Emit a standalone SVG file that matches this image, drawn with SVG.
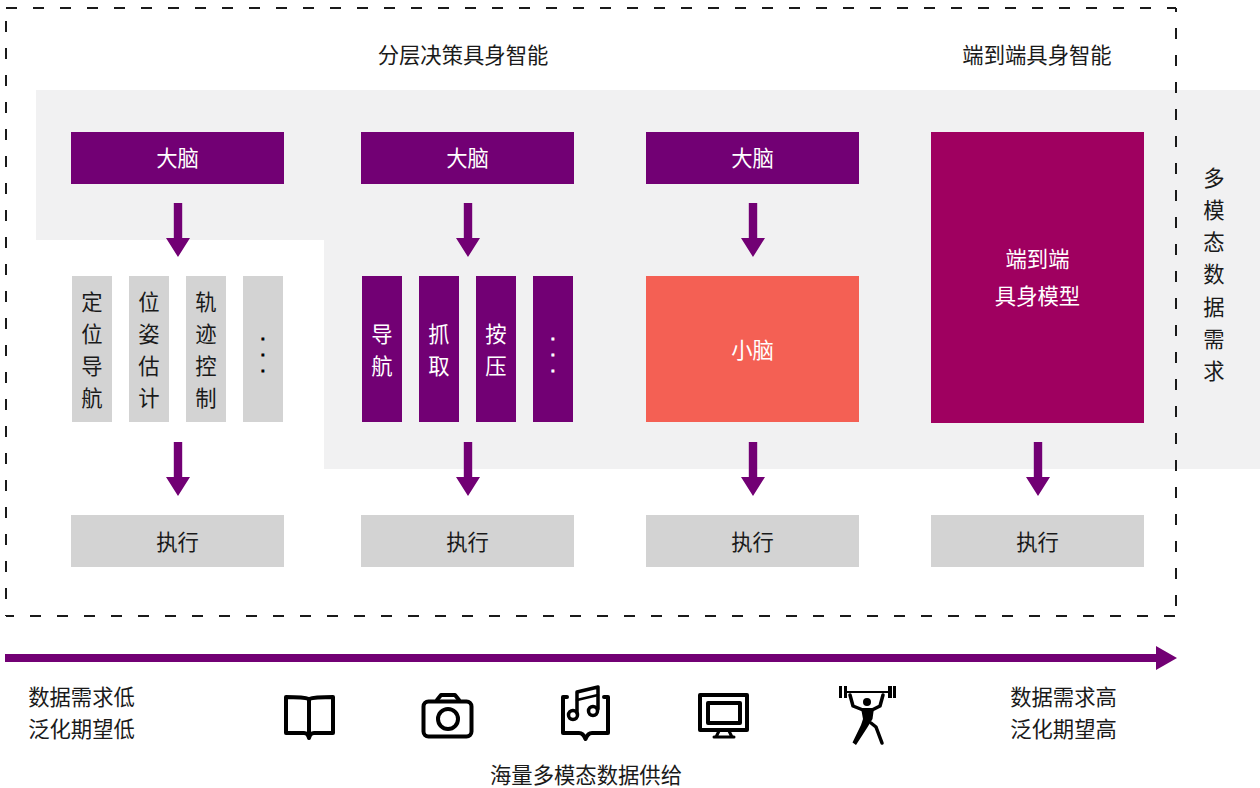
<svg xmlns="http://www.w3.org/2000/svg" width="1260" height="788" viewBox="0 0 1260 788">
<style>
text{font-family:"Noto Sans CJK SC","Noto Sans",sans-serif;font-size:21.33px;text-anchor:middle;fill:#1a1a1a;transform:translateY(.5px)}
text.w{fill:#fff}
text.d{font-family:"Liberation Sans",sans-serif;font-size:13.500px;font-weight:700;fill:#000;stroke:#000;stroke-width:.9}
text.dw{fill:#fff;stroke:#fff}
.p{fill:#720074}.g{fill:#d3d3d3}
.ic{fill:none;stroke:#000;stroke-width:4;stroke-linejoin:round;stroke-linecap:round}
.f{fill:#000;stroke:none}
.dash{fill:none;stroke:#1a1a1a;stroke-width:2;stroke-dasharray:11 16}
</style>
<defs>
<path id="dn" d="M-4.200 0H4.200V35H12L0 54L-12 35H-4.200Z" class="p"/>
</defs>
<path id="panel" fill="#f1f1f2" d="M36 90H1260V469H324V240H36Z"/>
<g id="frame">
<path class="dash" d="M6 8H1176"/>
<path class="dash" d="M1176 8V616" stroke-dashoffset="7"/>
<path class="dash" d="M6 616H1176" stroke-dashoffset="3"/>
<path class="dash" d="M6 8V616" stroke-dashoffset="14"/>
</g>
<text id="t1" x="463" y="62">分层决策具身智能</text>
<text id="t2" x="1037" y="62">端到端具身智能</text>
<g id="side"><text x="1214" y="185">多</text><text x="1214" y="217">模</text><text x="1214" y="249">态</text><text x="1214" y="281">数</text><text x="1214" y="314">据</text><text x="1214" y="346">需</text><text x="1214" y="378">求</text></g>
<g id="brain1"><rect class="p" x="71" y="132" width="213" height="52"/><text class="w" x="177.500" y="165">大脑</text></g>
<g id="brain2"><rect class="p" x="361" y="132" width="213" height="52"/><text class="w" x="467.500" y="165">大脑</text></g>
<g id="brain3"><rect class="p" x="646" y="132" width="213" height="52"/><text class="w" x="752.500" y="165">大脑</text></g>
<g id="e2e"><rect fill="#9f0060" x="931" y="132" width="213" height="291"/><text class="w" x="1037.500" y="266">端到端</text><text class="w" x="1037.500" y="303">具身模型</text></g>
<g id="m1"><rect class="g" x="72" y="276" width="40" height="146"/><text x="92" y="309">定</text><text x="92" y="341">位</text><text x="92" y="373">导</text><text x="92" y="405">航</text></g>
<g id="m2"><rect class="g" x="129" y="276" width="40" height="146"/><text x="149" y="309">位</text><text x="149" y="341">姿</text><text x="149" y="373">估</text><text x="149" y="405">计</text></g>
<g id="m3"><rect class="g" x="186" y="276" width="40" height="146"/><text x="206" y="309">轨</text><text x="206" y="341">迹</text><text x="206" y="373">控</text><text x="206" y="405">制</text></g>
<g id="m4"><rect class="g" x="243" y="276" width="40" height="146"/><text class="d" x="263" y="339">.</text><text class="d" x="263" y="355">.</text><text class="d" x="263" y="371">.</text></g>
<g id="s1"><rect class="p" x="362" y="276" width="40" height="146"/><text class="w" x="382" y="341">导</text><text class="w" x="382" y="373">航</text></g>
<g id="s2"><rect class="p" x="419" y="276" width="40" height="146"/><text class="w" x="439" y="341">抓</text><text class="w" x="439" y="373">取</text></g>
<g id="s3"><rect class="p" x="476" y="276" width="40" height="146"/><text class="w" x="496" y="341">按</text><text class="w" x="496" y="373">压</text></g>
<g id="s4"><rect class="p" x="533" y="276" width="40" height="146"/><text class="d dw" x="553" y="339">.</text><text class="d dw" x="553" y="355">.</text><text class="d dw" x="553" y="371">.</text></g>
<g id="cereb"><rect fill="#f46054" x="646" y="276" width="213" height="146"/><text class="w" x="752.500" y="357">小脑</text></g>
<g id="x1"><rect class="g" x="71" y="515" width="213" height="52"/><text x="177.500" y="549">执行</text></g>
<g id="x2"><rect class="g" x="361" y="515" width="213" height="52"/><text x="467.500" y="549">执行</text></g>
<g id="x3"><rect class="g" x="646" y="515" width="213" height="52"/><text x="752.500" y="549">执行</text></g>
<g id="x4"><rect class="g" x="931" y="515" width="213" height="52"/><text x="1037.500" y="549">执行</text></g>
<g id="connectors">
<use href="#dn" x="178" y="203"/><use href="#dn" x="468" y="203"/><use href="#dn" x="753" y="203"/>
<use href="#dn" x="178" y="442"/><use href="#dn" x="468" y="442"/><use href="#dn" x="753" y="442"/><use href="#dn" x="1038" y="442"/>
<path class="p" d="M5 654H1156V646L1177 658L1156 670V662H5Z"/>
</g>
<g id="low"><text x="81.500" y="704">数据需求低</text><text x="81.500" y="736">泛化期望低</text></g>
<g id="high"><text x="1063.500" y="704">数据需求高</text><text x="1063.500" y="736">泛化期望高</text></g>
<text id="supply" x="586" y="782">海量多模态数据供给</text>
<g id="book" class="ic"><path d="M309 699C304 697 296 697 286 697V733H304C306 733 308 734 309 738C310 734 312 733 314 733H333V697C322 697 314 697 309 699V738"/></g>
<g id="camera" class="ic"><rect x="423.500" y="701.500" width="48" height="35" rx="5"/><path d="M437 700L441 695H455L459 700"/><circle cx="448" cy="719" r="10"/></g>
<g id="music" class="ic"><path d="M567 697H563V733H579C582 733 584 735 585.500 739C587 735 589 733 592 733H608V697H604"/><path d="M577 713V692L598 687V709" stroke-width="3.500"/><path d="M577 700L598 695" stroke-width="2.500"/><circle cx="573" cy="715" r="4.500" stroke-width="3.500"/><circle cx="593" cy="711" r="4.500" stroke-width="3.500"/></g>
<g id="monitor" class="ic"><rect x="700" y="695" width="47" height="35"/><rect x="708" y="703" width="32" height="20"/><path d="M719 731L716 737H732L729 731M714 737H734" stroke-width="3"/></g>
<g id="lifter">
<path d="M846 692H889" stroke="#000" stroke-width="2" fill="none"/>
<path d="M839 686h3v12h-3zM844 686h3v12h-3zM888 686h4v12h-4zM893 686h3v12h-3z" class="f"/>
<circle class="f" cx="867" cy="702" r="4"/>
<path class="ic" style="stroke-width:3.500" d="M850 695L853 706L863 710M883 695L880 706L872 710"/>
<path class="f" d="M861 708H874L872.500 719L867 728L856 745L852.500 742.500L861 725L863 719Z"/>
<path class="ic" style="stroke-width:3.500" d="M871 723L876 727L882 743"/>
</g>
</svg>
